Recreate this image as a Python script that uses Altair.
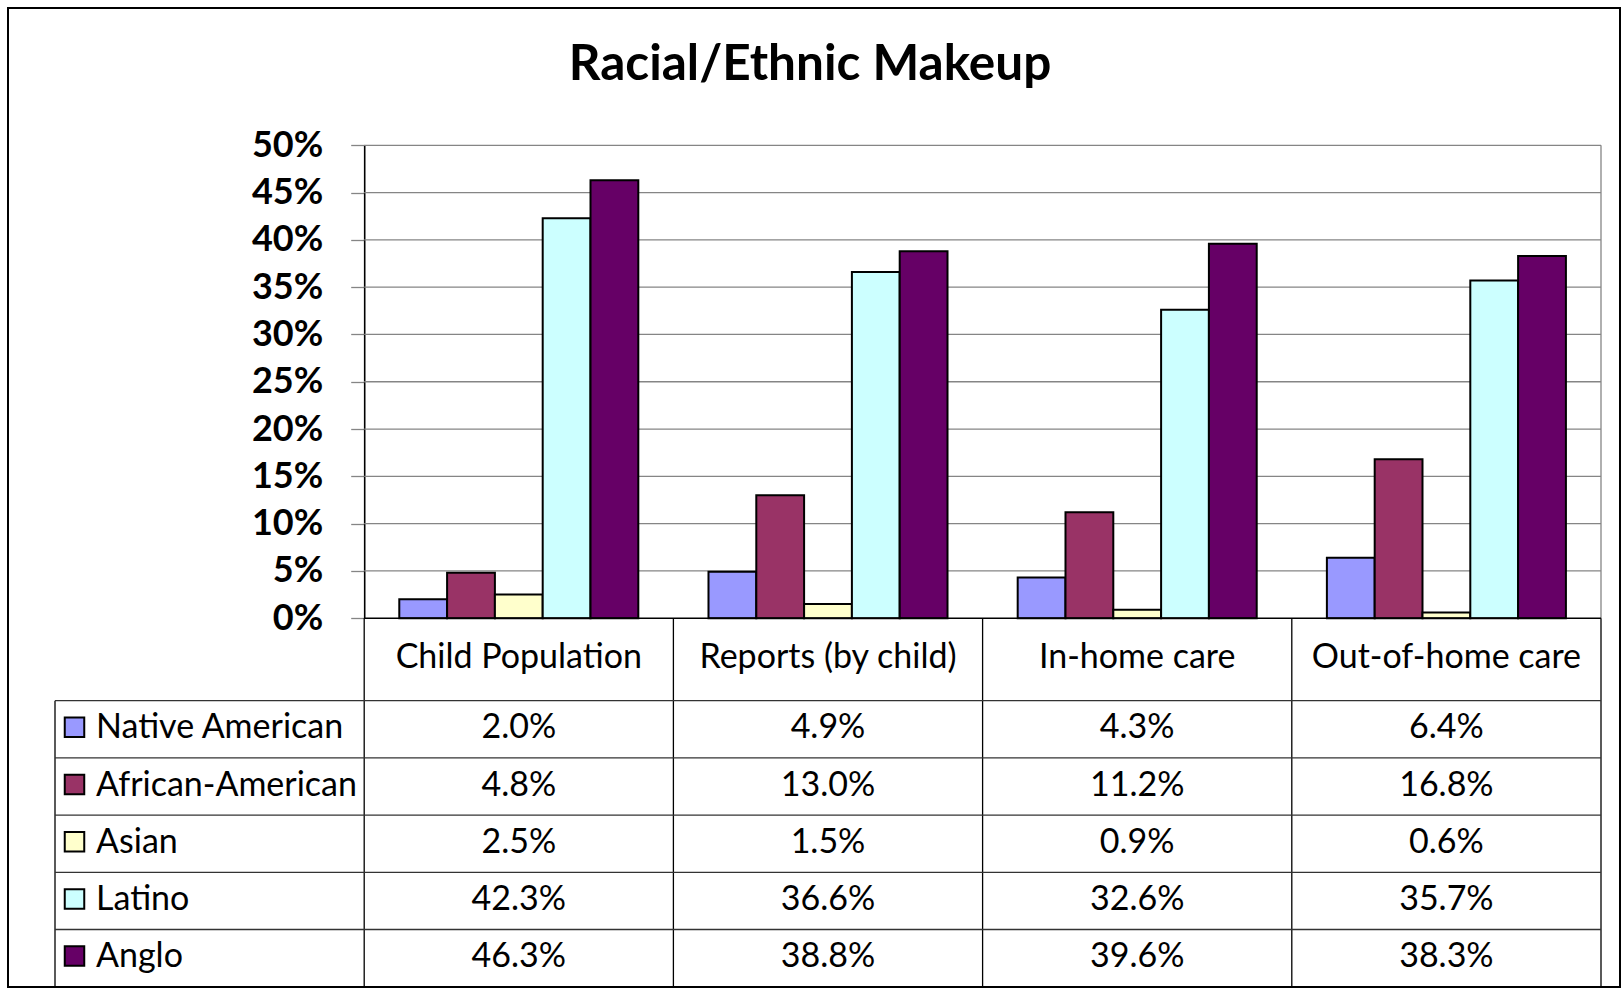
import altair as alt
import pandas as pd

# ---- data -----------------------------------------------------------------
CATEGORIES = ["Child Population", "Reports (by child)", "In-home care", "Out-of-home care"]
SERIES = ["Native American", "African-American", "Asian", "Latino", "Anglo"]
COLORS = ["#9999FF", "#993366", "#FFFFCC", "#CCFFFF", "#660066"]

NATIVE_AMERICAN = [2.0, 4.9, 4.3, 6.4]
AFRICAN_AMERICAN = [4.8, 13.0, 11.2, 16.8]
ASIAN = [2.5, 1.5, 0.9, 0.6]
LATINO = [42.3, 36.6, 32.6, 35.7]
ANGLO = [46.3, 38.8, 39.6, 38.3]

Y_TICKS = [0, 5, 10, 15, 20, 25, 30, 35, 40, 45, 50]

KEY_COL = "key"                      # leftmost table column holding the legend keys
COLUMNS = [KEY_COL] + CATEGORIES

values_by_series = [NATIVE_AMERICAN, AFRICAN_AMERICAN, ASIAN, LATINO, ANGLO]
long = pd.DataFrame(
    [
        {"category": c, "series": s, "value": v / 100}
        for s, vals in zip(SERIES, values_by_series)
        for c, v in zip(CATEGORIES, vals)
    ]
)
cats_df = pd.DataFrame({"category": CATEGORIES})
series_df = pd.DataFrame({"series": SERIES})
grid_df = pd.DataFrame({"v": [t / 100 for t in Y_TICKS[1:]]})

# ---- layout (view coordinates) ---------------------------------------------
W, H = 1612, 979
FONT = "Lato"
TXT = 34

xs = alt.Scale(domain=COLUMNS, range=[47, 1593], paddingInner=0, paddingOuter=0)
vs = alt.Scale(domain=[0, 0.5], range=[610.2, 137.3], nice=False, zero=True)
hs = alt.Scale(domain=["hdr"], range=[610.2, 692.7], paddingInner=0, paddingOuter=0)
rs = alt.Scale(domain=SERIES, range=[692.7, 978.7], paddingInner=0, paddingOuter=0)
cs = alt.Scale(domain=SERIES, range=COLORS)

c_first = CATEGORIES[0]
c_last = CATEGORIES[-1]

# horizontal value gridlines inside the plot box
grid = alt.Chart(grid_df).mark_rule(color="#858585", strokeWidth=1.3).encode(
    x=alt.XDatum(c_first, type="nominal", bandPosition=0, scale=xs, axis=None),
    x2=alt.X2Datum(c_last, bandPosition=1),
    y=alt.Y("v:Q", scale=vs, axis=None),
)

# right edge of the plot box
plot_right = alt.Chart(cats_df.head(1)).mark_rule(color="#858585", strokeWidth=1.3).encode(
    x=alt.XDatum(c_last, type="nominal", bandPosition=1, scale=xs, axis=None),
    y=alt.YDatum(0.5, type="quantitative", scale=vs, axis=None),
    y2=alt.Y2Datum(0),
)

bars = alt.Chart(long).mark_bar(stroke="black", strokeWidth=2).encode(
    x=alt.X("category:N", scale=xs, axis=None),
    xOffset=alt.XOffset(
        "series:N",
        scale=alt.Scale(domain=SERIES, paddingInner=0, paddingOuter=0.734),
    ),
    y=alt.Y(
        "value:Q",
        scale=vs,
        axis=alt.Axis(
            orient="left",
            offset=-356.2,
            values=[t / 100 for t in Y_TICKS],
            format=".0%",
            grid=False,
            title=None,
            domainColor="black",
            domainWidth=1.6,
            tickSize=13.5,
            tickColor="#858585",
            tickWidth=1.3,
            labelFont=FONT,
            labelFontWeight="bold",
            labelFontSize=36,
            labelColor="black",
            labelPadding=28,
            labelFlush=False,
            labelOverlap=False,
        ),
    ),
    color=alt.Color("series:N", scale=cs, legend=None),
)

# category axis line at 0%
zero_line = alt.Chart(cats_df.head(1)).mark_rule(color="black", strokeWidth=1.6).encode(
    x=alt.XDatum(c_first, type="nominal", bandPosition=0, scale=xs, axis=None),
    x2=alt.X2Datum(c_last, bandPosition=1),
    y=alt.YDatum(0, type="quantitative", scale=vs, axis=None),
)

# vertical table lines below the plot
col_lines = alt.Chart(cats_df).mark_rule(color="black", strokeWidth=1.3).encode(
    x=alt.X("category:N", bandPosition=0, scale=xs, axis=None),
    y=alt.YDatum(0, type="quantitative", scale=vs, axis=None),
    y2=alt.value("height"),
)
right_line = alt.Chart(cats_df.head(1)).mark_rule(color="black", strokeWidth=1.3).encode(
    x=alt.XDatum(c_last, type="nominal", bandPosition=1, scale=xs, axis=None),
    y=alt.YDatum(0, type="quantitative", scale=vs, axis=None),
    y2=alt.value("height"),
)
key_left_line = alt.Chart(cats_df.head(1)).mark_rule(color="black", strokeWidth=1.3).encode(
    x=alt.XDatum(KEY_COL, type="nominal", bandPosition=0, scale=xs, axis=None),
    y=alt.YDatum(SERIES[0], type="nominal", bandPosition=0, scale=rs, axis=None),
    y2=alt.value("height"),
)

# horizontal table lines at the top of each series row
row_lines = alt.Chart(series_df).mark_rule(color="#333333", strokeWidth=1.3).encode(
    x=alt.XDatum(KEY_COL, type="nominal", bandPosition=0, scale=xs, axis=None),
    x2=alt.X2Datum(c_last, bandPosition=1),
    y=alt.Y("series:N", bandPosition=0, scale=rs, axis=None),
)

# category names under the plot
header_text = alt.Chart(cats_df).mark_text(
    font=FONT, fontSize=TXT, color="black", baseline="middle", dy=-1
).encode(
    x=alt.X("category:N", scale=xs, axis=None),
    y=alt.YDatum("hdr", type="nominal", scale=hs, axis=None),
    text="category:N",
)

# data table cells
value_text = alt.Chart(long).mark_text(
    font=FONT, fontSize=TXT, color="black", baseline="middle", dy=-1
).encode(
    x=alt.X("category:N", scale=xs, axis=None),
    y=alt.Y("series:N", scale=rs, axis=None),
    text=alt.Text("value:Q", format=".1%"),
)

# legend keys in the first table column
key_text = alt.Chart(series_df).mark_text(
    font=FONT, fontSize=TXT, color="black", baseline="middle", align="left", dx=41, dy=-1
).encode(
    x=alt.XDatum(KEY_COL, type="nominal", bandPosition=0, scale=xs, axis=None),
    y=alt.Y("series:N", scale=rs, axis=None),
    text="series:N",
)
key_swatch = alt.Chart(series_df).mark_square(
    size=380, stroke="black", strokeWidth=2, opacity=1, filled=True, xOffset=19.5, yOffset=-2
).encode(
    x=alt.XDatum(KEY_COL, type="nominal", bandPosition=0, scale=xs, axis=None),
    y=alt.Y("series:N", scale=rs, axis=None),
    color=alt.Color("series:N", scale=cs, legend=None),
)

chart = (
    alt.layer(
        grid,
        plot_right,
        bars,
        zero_line,
        col_lines,
        right_line,
        key_left_line,
        row_lines,
        header_text,
        value_text,
        key_text,
        key_swatch,
    )
    .resolve_scale(y="independent")
    .properties(
        width=W,
        height=H,
        background="white",
        title=alt.TitleParams(
            "Racial/Ethnic Makeup",
            font=FONT,
            fontSize=49.5,
            fontWeight="bold",
            color="black",
            anchor="middle",
            frame="group",
            baseline="alphabetic",
            offset=-121,
            dx=-4,
        ),
        autosize=alt.AutoSizeParams(type="none"),
        padding={"left": 8, "top": 8, "right": 2, "bottom": 1},
    )
    .configure_view(stroke="black", strokeWidth=2)
)

chart.save("out.html", embed_options={"renderer": "svg", "actions": False})
